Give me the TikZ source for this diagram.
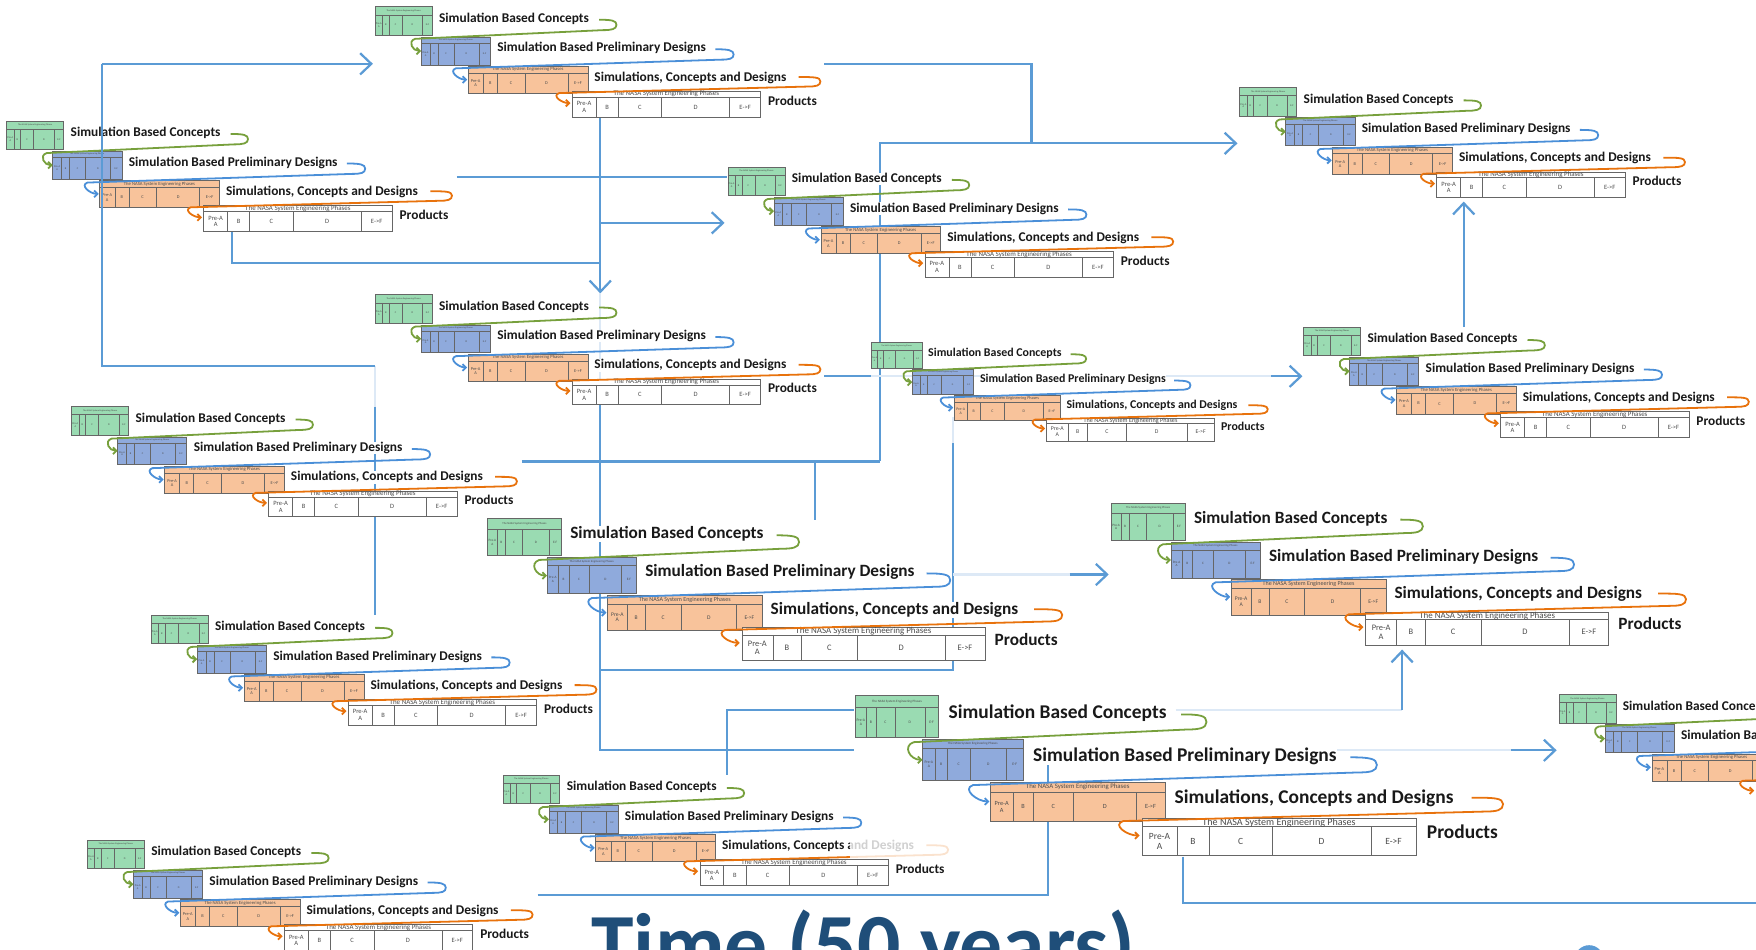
\documentclass[tikz,border=0pt]{standalone}
\usepackage{fontspec}
\setmainfont{Carlito}
\usetikzlibrary{arrows.meta}
\definecolor{cblue}{HTML}{5B9BD5}
\definecolor{cfaint}{HTML}{DDE9F6}
\definecolor{tgreen}{HTML}{9ADBB2}
\definecolor{tblue}{HTML}{8FAADC}
\definecolor{torange}{HTML}{F8C39B}
\definecolor{hgreen}{HTML}{77A03C}
\definecolor{hblue}{HTML}{4A8FD8}
\definecolor{horange}{HTML}{E8720C}
\definecolor{tdark}{HTML}{1F4E79}
\def\elab{E-F}
% #1 id, #2 x0, #3 y0, #4 x1, #5 y1, #6 header bottom, #7 fill, #8 header size, #9 cell size
\newcommand\ptbl[9]{%
 \pgfmathsetmacro\tbW{#4-#2}%
 \pgfmathsetmacro\tbA{#2+0.127*\tbW}%
 \pgfmathsetmacro\tbB{#2+0.244*\tbW}%
 \pgfmathsetmacro\tbC{#2+0.475*\tbW}%
 \pgfmathsetmacro\tbD{#2+0.836*\tbW}%
 \pgfmathsetmacro\tbM{(#6+#5)/2}%
 \pgfmathsetmacro\tbH{(#3+#6)/2}%
 \pgfmathsetmacro\tbX{(#2+#4)/2}%
 \draw[tline, fill=#7] (#2,#3) rectangle (#4,#5);
 \draw[tline] (#2,#6) -- (#4,#6) (\tbA,#6) -- (\tbA,#5) (\tbB,#6) -- (\tbB,#5) (\tbC,#6) -- (\tbC,#5) (\tbD,#6) -- (\tbD,#5);
 \node[tl, font=\fontsize{#8}{#8}\selectfont] (-#1h) at (\tbX,\tbH) {The NASA System Engineering Phases};
 \node[tl, align=center, font=\fontsize{#9}{#9}\selectfont] (-#1a) at ({(#2+\tbA)/2},\tbM) {Pre-A\\A};
 \node[tl, font=\fontsize{#9}{#9}\selectfont] (-#1b) at ({(\tbA+\tbB)/2},\tbM) {B};
 \node[tl, font=\fontsize{#9}{#9}\selectfont] (-#1c) at ({(\tbB+\tbC)/2},\tbM) {C};
 \node[tl, font=\fontsize{#9}{#9}\selectfont] (-#1d) at ({(\tbC+\tbD)/2},\tbM) {D};
 \node[tl, font=\fontsize{#9}{#9}\selectfont] (-#1e) at ({(\tbD+#4)/2},\tbM) {\elab};
}
\tikzset{
 tline/.style={draw=black!60, line width=0.5pt},
 tl/.style={inner sep=0pt, transform shape, text=black!70},
 lab/.style={inner sep=0.5pt, anchor=west, fill=white, transform shape, font=\fontsize{15.4}{16}\selectfont\bfseries, text=black!90},
 hook/.style={line width=1.6pt, -{Straight Barb[length=3pt,width=6pt]}},
 conn/.style={draw=cblue, line width=2pt},
 connf/.style={draw=cfaint, line width=2pt},
 arr/.style={-{Straight Barb[length=10pt,width=19pt]}},
 pics/unit/.style={code={
  \def\elab{E-F}
  \ptbl{g}{0}{0}{65.6}{33}{9.5}{tgreen}{2.6}{3}
  \ptbl{b}{53}{35}{132.6}{67}{42}{tblue}{2.6}{3}
  \def\elab{E->F}
  \ptbl{o}{107}{68.5}{245}{100}{76.5}{torange}{5.4}{5}
  \ptbl{w}{227}{97.5}{444}{127}{104}{white}{8}{7.5}
  \node[lab] (-t1) at (73,14) {Simulation Based Concepts};
  \node[lab] (-t2) at (140,48) {Simulation Based Preliminary Designs};
  \node[lab] (-t3) at (252,81.5) {Simulations, Concepts and Designs};
  \node[lab] (-tp) at (452,108) {Products};
  \draw[hook, hgreen] (258,15) .. controls +(15,0) and +(0,-5) .. (278,21) .. controls +(0,5) and +(10,0) .. (262,27) -- (46,37) .. controls +(-9,3) and +(-10,0) .. (53,51);
  \draw[hook, hblue] (392,49) .. controls +(15,0) and +(0,-5) .. (413,55) .. controls +(0,5) and +(10,0) .. (398,61) -- (93,71) .. controls +(-9,3) and +(-10,0) .. (106,84);
  \draw[hook, horange] (488,81) .. controls +(17,0) and +(0,-5) .. (513,86) .. controls +(0,5) and +(10,0) .. (498,92) -- (212,99.5) .. controls +(-9,3) and +(-10,0) .. (225,111);
 }},
}
\begin{document}
\begin{tikzpicture}[x=1pt,y=-1pt]
\useasboundingbox (0,0) rectangle (1568,848);
\clip (0,0) rectangle (1568,848);
\fill[white] (0,0) rectangle (1568,848);
% ---- connectors (beneath units)
\coordinate (k1a) at (736,57); \coordinate (k1b) at (921,57); \coordinate (k1c) at (921,128);
\draw[conn] (k1a) -- (k1b) -- (k1c);
\coordinate (k2a) at (786,412); \coordinate (k2b) at (786,128); \coordinate (k2c) at (1105,128);
\draw[conn,arr] (k2a) -- (k2b) -- (k2c);
\coordinate (k3a) at (536,105); \coordinate (k3b) at (536,262); \coordinate (k3c) at (536,345);
\coordinate (k3d) at (536,670); \coordinate (k3e) at (763,670);
\draw[conn,arr] (k3a) -- (k3b);
\draw[connf] (k3b) -- (k3c);
\draw[conn] (k3c) -- (k3d) -- (k3e);
\coordinate (k5a) at (536,199); \coordinate (k5b) at (647,199);
\draw[conn,arr] (k5a) -- (k5b);
\coordinate (k6a) at (408,158); \coordinate (k6b) at (649,158);
\draw[conn] (k6a) -- (k6b);
\coordinate (k7a) at (207,206); \coordinate (k7b) at (207,235); \coordinate (k7c) at (536,235);
\draw[conn] (k7a) -- (k7b) -- (k7c);
\coordinate (k8a) at (466,412); \coordinate (k8b) at (728,412); \coordinate (k8c) at (728,464);
\draw[conn] (k8a) -- (k2a);
\draw[conn] (k8b) -- (k8c);
\coordinate (k9a) at (536,598); \coordinate (k9b) at (851,598); \coordinate (k9c) at (851,396); \coordinate (k9d) at (851,372);
\draw[conn] (k9a) -- (k9b) -- (k9c);
\draw[connf] (k9c) -- (k9d);
\coordinate (k10a) at (851,513); \coordinate (k10b) at (955,513); \coordinate (k10c) at (990,513);
\draw[connf] (k10a) -- (k10b);
\draw[conn,arr] (k10b) -- (k10c);
\coordinate (k11a) at (736,336); \coordinate (k11b) at (778,336); \coordinate (k11c) at (1135,336); \coordinate (k11d) at (1163,336);
\draw[conn] (k11a) -- (k11b);
\draw[connf] (k11b) -- (k11c);
\draw[conn,arr] (k11c) -- (k11d);
\coordinate (k12a) at (1307,292); \coordinate (k12b) at (1307,180);
\draw[conn,arr] (k12a) -- (k12b);
\coordinate (k13a) at (649,692); \coordinate (k13b) at (649,634); \coordinate (k13c) at (763,634);
\draw[conn] (k13a) -- (k13b) -- (k13c);
\coordinate (k14a) at (480,799); \coordinate (k14b) at (936,799); \coordinate (k14c) at (936,680);
\draw[conn] (k14a) -- (k14b) -- (k14c);
\coordinate (k15a) at (1056,765); \coordinate (k15b) at (1056,806); \coordinate (k15c) at (1568,806);
\draw[conn] (k15a) -- (k15b) -- (k15c);
\coordinate (k16a) at (1050,634); \coordinate (k16b) at (1252,634); \coordinate (k16c) at (1252,580);
\draw[connf] (k16a) -- (k16b);
\draw[conn,arr] (k16b) -- (k16c);
\coordinate (k17a) at (1194,670); \coordinate (k17b) at (1349,670); \coordinate (k17c) at (1390,670);
\draw[connf] (k17a) -- (k17b);
\draw[conn,arr] (k17b) -- (k17c);
\coordinate (k18a) at (335,327); \coordinate (k18b) at (335,363); \coordinate (k18c) at (335,549);
\draw[connf] (k18a) -- (k18b);
\draw[conn] (k18b) -- (k18c);
% ---- units
\pic[scale=0.775] (u1) at (335,6) {unit};
\pic[scale=0.775] (u2) at (6,108) {unit};
\pic[scale=0.775] (u3) at (1107,78) {unit};
\pic[scale=0.775] (u4) at (650,149) {unit};
\pic[scale=0.775] (u5) at (335,263) {unit};
\pic[scale=0.69] (u6) at (778,306) {unit};
\pic[scale=0.775] (u7) at (1164,292) {unit};
\pic[scale=0.775] (u8) at (64,363) {unit};
\pic[scale=1] (u9) at (435.5,463) {unit};
\pic[scale=1] (u10) at (992.5,449) {unit};
\pic[scale=0.775] (u11) at (135,549) {unit};
\pic[scale=1.127] (u12) at (764,621) {unit};
\pic[scale=0.775] (u13) at (1392,620) {unit};
\pic[scale=0.775] (u14) at (449,692) {unit};
\pic[scale=0.775] (u15) at (78,750) {unit};
% fading over part of u14
\fill[white, opacity=0.8] (759,743) rectangle (860,767);
% ---- connector drawn over units
\coordinate (l1a) at (91,57); \coordinate (l1b) at (333,57); \coordinate (l1c) at (91,327);
\draw[conn,arr] (l1a) -- (l1b);
\draw[conn] (l1a) -- (l1c) -- (k18a);
% ---- title
\node[anchor=base west, inner sep=0pt, text=tdark, font=\fontsize{76.5}{80}\selectfont\bfseries] (time) at (528,869) {Time (50 years)};
\fill[cblue] (1419,857) circle (13);
\end{tikzpicture}
\end{document}
